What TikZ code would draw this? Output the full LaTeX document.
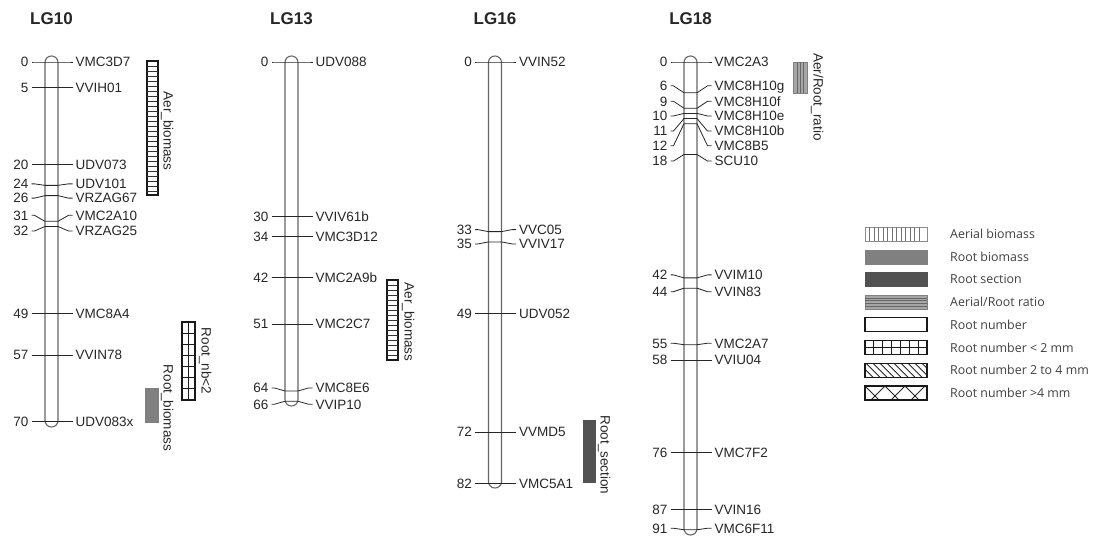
\documentclass[tikz,border=0pt]{standalone}
\usepackage{fontspec}
\setmainfont{Liberation Sans}
\newfontfamily\legfont{Open Sans}
\begin{document}
\begin{tikzpicture}[x=1pt,y=-1pt,
  ttl/.style={font=\fontsize{17}{19}\selectfont\bfseries, text=black!85, inner sep=0pt},
  bar/.style={draw=black!60, line width=1.1pt, rounded corners=6.4pt, fill=white},
  tick/.style={draw=black!85, line width=0.8pt},
  num/.style={font=\fontsize{13.5}{15}\selectfont, text=black!85, inner sep=0pt, text height=9.7pt, text depth=0pt},
  mk/.style={font=\fontsize{13.5}{15}\selectfont, text=black!85, inner sep=0pt, text height=9.7pt, text depth=0pt},
  qlab/.style={font=\fontsize{13.5}{15}\selectfont, text=black!85, inner sep=0pt, rotate=-90, text height=9.7pt, text depth=2.8pt},
  legtxt/.style={font=\legfont\fontsize{12.4}{14}\selectfont, text=black!75, inner sep=0pt, anchor=west},
  qline/.style={draw=black!90, line width=1.2pt},
  hline/.style={draw=black!80, line width=0.9pt}
]
\useasboundingbox (0,0) rectangle (1102,541);

\newcommand\chromo[4]{%
  \node[ttl] (t#3) at (#1,19) {#3};
  \draw[bar] (#1-6.5,56) rectangle (#1+6.5,#2);
  \foreach \cm/\d/\nm in {#4}{%
    \pgfmathsetmacro\ty{62+5.14*\cm}%
    \pgfmathsetmacro\ly{\ty+\d}%
    \draw[tick] (#1-20,\ly) -- (#1-17,\ly) -- (#1-6.5,\ty) -- (#1+6.5,\ty) -- (#1+17,\ly) -- (#1+21,\ly);
    \node[num,anchor=east] at (#1-23,\ly) {\cm};
    \node[mk,anchor=west] at (#1+24,\ly) {\nm};
  }%
}

% ---------------- chromosomes ----------------
\chromo{51.5}{427}{LG10}{0/0/VMC3D7, 5/0/VVIH01, 20/0/UDV073, 24/-1.5/UDV101, 26/2.5/VRZAG67, 31/-6/VMC2A10, 32/4.5/VRZAG25, 49/0/VMC8A4, 57/0/VVIN78, 70/0/UDV083x}
\chromo{291.5}{406}{LG13}{0/0/UDV088, 30/0/VVIV61b, 34/0/VMC3D12, 42/0/VMC2A9b, 51/0/VMC2C7, 64/-3/VMC8E6, 66/3/VVIP10}
\chromo{495}{488}{LG16}{0/0/VVIN52, 33/-2/VVC05, 35/2/VVIV17, 49/0/UDV052, 72/0/VVMD5, 82/0/VMC5A1}
\chromo{690.5}{535}{LG18}{0/0/VMC2A3, 6/-7/VMC8H10g, 9/-7/VMC8H10f, 10/2.6/VMC8H10e, 11/12.5/VMC8H10b, 12/22/VMC8B5, 18/6.5/SCU10, 42/-3/VVIM10, 44/3.5/VVIN83, 55/-1.5/VMC2A7, 58/0/VVIU04, 76/0/VMC7F2, 87/0/VVIN16, 91/-1.5/VMC6F11}

% ---------------- QTL boxes ----------------
% LG10 Aer_biomass
\draw[qline, fill=white] (147,61) rectangle (158,195);
\foreach \y in {66,71,...,191} \draw[hline] (147,\y) -- (158,\y);
\node[qlab] (q1) at (167,131) {Aer\_biomass};
% LG10 Root_nb<2
\draw[qline, fill=white] (182,322) rectangle (195,400);
\foreach \i in {1,...,6} \draw[qline] (182,322+11.14*\i) -- (195,322+11.14*\i);
\draw[qline] (188.5,322) -- (188.5,400);
\node[qlab] (q2) at (205,361) {Root\_nb<2};
% LG10 Root_biomass
\draw[draw=gray, fill=gray] (145,388) rectangle (158,422);
\node[qlab] (q3) at (167,408) {Root\_biomass};
% LG13 Aer_biomass
\draw[qline, fill=white] (387,280) rectangle (398,360);
\foreach \y in {285,290,...,355} \draw[hline] (387,\y) -- (398,\y);
\node[qlab] (q4) at (408,322) {Aer\_biomass};
% LG16 Root_section
\draw[draw=black!68, fill=black!68] (583,420) rectangle (595,482);
\node[qlab] (q5) at (604,455) {Root\_section};
% LG18 Aer/Root_ratio
\draw[draw=black!50, fill=black!35, line width=0.8pt] (793,62) rectangle (807,93);
\foreach \x in {797,800,803} \draw[draw=black!60, line width=0.9pt] (\x,62) -- (\x,93);
\node[qlab] (q6) at (817,97) {Aer/Root\_ratio};

% ---------------- legend ----------------
\def\lx{865}\def\rx{927}
% 1 Aerial biomass
\begin{scope}[shift={(0,234)}]
  \draw[draw=black!45, line width=0.8pt, fill=white] (\lx,-7) rectangle (\rx,7);
  \foreach \x in {869.5,874,...,923} \draw[draw=black!55, line width=0.7pt] (\x,-7) -- (\x,7);
  \node[legtxt] (l1) at (950,0) {Aerial biomass};
\end{scope}
% 2 Root biomass
\begin{scope}[shift={(0,256.7)}]
  \draw[draw=gray, fill=gray] (\lx,-7) rectangle (\rx,7);
  \node[legtxt] (l2) at (950,0) {Root biomass};
\end{scope}
% 3 Root section
\begin{scope}[shift={(0,279.4)}]
  \draw[draw=black!68, fill=black!68] (\lx,-7) rectangle (\rx,7);
  \node[legtxt] (l3) at (950,0) {Root section};
\end{scope}
% 4 Aerial/Root ratio
\begin{scope}[shift={(0,302.1)}]
  \draw[draw=black!50, fill=black!35, line width=0.8pt] (\lx,-7) rectangle (\rx,7);
  \foreach \y in {-4,-1.3,1.3,4} \draw[draw=black!60, line width=0.9pt] (\lx,\y) -- (\rx,\y);
  \node[legtxt] (l4) at (950,0) {Aerial/Root ratio};
\end{scope}
% 5 Root number
\begin{scope}[shift={(0,324.8)}]
  \draw[qline, fill=white] (\lx,-7) rectangle (\rx,7);
  \node[legtxt] (l5) at (950,0) {Root number};
\end{scope}
% 6 Root number < 2 mm
\begin{scope}[shift={(0,347.5)}]
  \draw[qline, fill=white] (\lx,-7) rectangle (\rx,7);
  \draw[qline] (\lx,0) -- (\rx,0);
  \foreach \i in {1,...,6} \draw[qline] (\lx+8.86*\i,-7) -- (\lx+8.86*\i,7);
  \node[legtxt] (l6) at (950,0) {Root number < 2 mm};
\end{scope}
% 7 Root number 2 to 4 mm
\begin{scope}[shift={(0,370.2)}]
  \fill[white] (\lx,-7) rectangle (\rx,7);
  \begin{scope}
    \clip (\lx,-7) rectangle (\rx,7);
    \foreach \x in {845,852,...,930} \draw[draw=black!85, line width=0.9pt] (\x,-7) -- (\x+14,7);
  \end{scope}
  \draw[qline] (\lx,-7) rectangle (\rx,7);
  \node[legtxt] (l7) at (950,0) {Root number 2 to 4 mm};
\end{scope}
% 8 Root number >4 mm
\begin{scope}[shift={(0,392.9)}]
  \fill[white] (\lx,-7) rectangle (\rx,7);
  \begin{scope}
    \clip (\lx,-7) rectangle (\rx,7);
    \foreach \x in {855,875,...,935} {
      \draw[draw=black!85, line width=0.9pt] (\x-10,-7) -- (\x+4,7);
      \draw[draw=black!85, line width=0.9pt] (\x+10,-7) -- (\x-4,7);
    }
  \end{scope}
  \draw[qline] (\lx,-7) rectangle (\rx,7);
  \node[legtxt] (l8) at (950,0) {Root number >4 mm};
\end{scope}

\end{tikzpicture}
\end{document}
